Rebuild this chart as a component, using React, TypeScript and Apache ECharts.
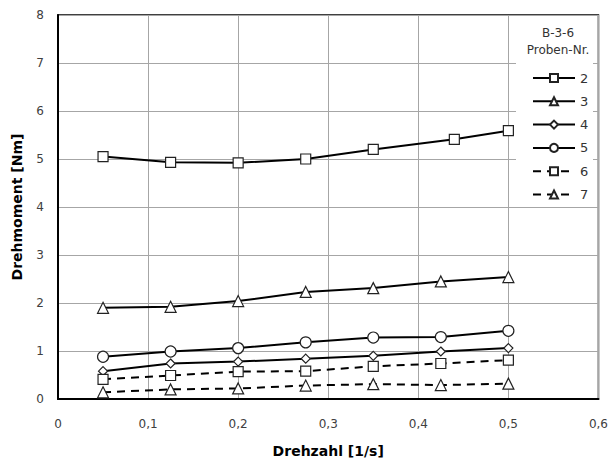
import React, { useEffect, useRef } from "react";
import * as echarts from "echarts";

const rpm = [0.05, 0.125, 0.2, 0.275, 0.35, 0.425, 0.5];
const rpm2 = [0.05, 0.125, 0.2, 0.275, 0.35, 0.44, 0.5];
const s2 = [5.05, 4.93, 4.92, 5.0, 5.2, 5.41, 5.59];
const s3 = [1.9, 1.92, 2.04, 2.23, 2.31, 2.45, 2.54];
const s4 = [0.58, 0.74, 0.78, 0.84, 0.9, 0.99, 1.06];
const s5 = [0.88, 0.99, 1.06, 1.18, 1.28, 1.29, 1.42];
const s6 = [0.41, 0.49, 0.57, 0.58, 0.68, 0.74, 0.81];
const s7 = [0.14, 0.2, 0.22, 0.28, 0.31, 0.29, 0.32];
const names = ["2", "3", "4", "5", "6", "7"];
const legendTitle = "B-3-6\nProben-Nr.";
const xName = "Drehzahl [1/s]";
const yName = "Drehmoment [Nm]";

const FONT = "DejaVu Sans";

function mk(name: string, xs: number[], ys: number[], symbol: string, size: number, dashed: boolean) {
  return {
    name,
    type: "line",
    data: xs.map((x, i) => [x, ys[i]]),
    symbol,
    symbolSize: size,
    showAllSymbol: true,
    lineStyle: { color: "#000", width: 2, type: dashed ? [8, 6] : "solid" },
    itemStyle: { color: "#fff", borderColor: "#222", borderWidth: 1.2 },
    emphasis: { disabled: true },
  };
}

export default function App() {
  const ref = useRef<HTMLDivElement>(null);
  useEffect(() => {
    document.body.style.margin = "0";
    const chart = echarts.init(ref.current!, null, { renderer: "svg" });
    chart.setOption({
      animation: false,
      backgroundColor: "#fff",
      textStyle: { fontFamily: FONT },
      grid: {
        left: 58,
        right: 10,
        top: 15,
        bottom: 63,
        show: true,
        borderColor: "#000",
        borderWidth: 1.5,
      },
      xAxis: {
        type: "value",
        min: 0,
        max: 0.6,
        interval: 0.1,
        name: xName,
        nameLocation: "middle",
        nameGap: 45,
        nameTextStyle: { fontWeight: "bold", fontSize: 14, color: "#000", fontFamily: FONT },
        axisLine: { show: true, lineStyle: { color: "#000", width: 2 } },
        axisTick: { show: false },
        axisLabel: {
          margin: 19,
          fontSize: 12,
          color: "#404040",
          fontFamily: FONT,
          formatter: (v: number) => (v === 0 ? "0" : v.toFixed(1).replace(".", ",")),
        },
        splitLine: { show: true, lineStyle: { color: "#a6a6a6", width: 1 } },
      },
      yAxis: {
        type: "value",
        min: 0,
        max: 8,
        interval: 1,
        name: yName,
        nameLocation: "middle",
        nameGap: 34,
        nameTextStyle: { fontWeight: "bold", fontSize: 14, color: "#000", fontFamily: FONT },
        axisLine: { show: true, lineStyle: { color: "#000", width: 2 } },
        axisTick: { show: false },
        axisLabel: { margin: 14, fontSize: 12, color: "#404040", fontFamily: FONT },
        splitLine: { show: true, lineStyle: { color: "#a6a6a6", width: 1 } },
      },
      graphic: [
        {
          type: "rect",
          z: 3,
          shape: { x: 516, y: 18, width: 77, height: 184 },
          style: { fill: "#fff" },
        },
        {
          type: "text",
          z: 5,
          x: 558,
          y: 24,
          style: {
            text: legendTitle,
            fill: "#333",
            font: `12px ${FONT}`,
            textAlign: "center",
            lineHeight: 17,
          },
        },
      ],
      legend: {
        orient: "vertical",
        left: 527,
        top: 66,
        itemWidth: 42,
        itemHeight: 10,
        itemGap: 9.3,
        selectedMode: false,
        textStyle: { fontSize: 13, color: "#333", fontFamily: FONT, lineHeight: 14 },
        data: names,
      },
      series: [
        mk(names[0], rpm2, s2, "rect", 10, false),
        mk(names[1], rpm, s3, "triangle", 11, false),
        mk(names[2], rpm, s4, "diamond", 9, false),
        mk(names[3], rpm, s5, "circle", 11, false),
        mk(names[4], rpm, s6, "rect", 10, true),
        mk(names[5], rpm, s7, "triangle", 11, true),
      ],
    });
    return () => chart.dispose();
  }, []);
  return <div ref={ref} style={{ width: 611, height: 463 }} />;
}
